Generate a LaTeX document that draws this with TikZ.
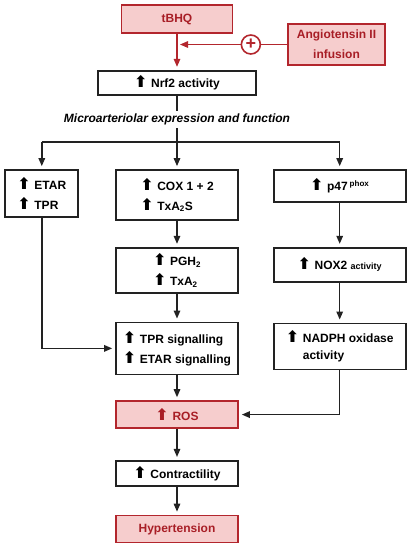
\documentclass[tikz,border=0pt]{standalone}
\usepackage{fontspec}
\setmainfont{Liberation Sans}
\newfontfamily\arrowfont{DejaVu Sans}
\usepackage{xcolor}
\definecolor{ink}{HTML}{222222}
\definecolor{redline}{HTML}{B3262D}
\definecolor{redfill}{HTML}{F6CDCD}
\definecolor{redtext}{HTML}{A81E26}
\usetikzlibrary{positioning,arrows.meta,calc}
\newcommand{\upa}{{\arrowfont\fontsize{16}{16}\selectfont ⬆}\hspace{0.3em}}
\tikzset{
  box/.style={draw=ink,line width=1.7pt,fill=white,align=left,font=\bfseries\fontsize{12}{20}\selectfont,
              inner sep=3pt,minimum width=#1},
  box/.default=122pt,
  keybox/.style={box=#1,draw=redline,fill=redfill,text=redtext,align=center},
  keybox/.default=122pt,
  flow/.style={-{Triangle[length=8pt,width=6.5pt]},draw=ink,line width=1.4pt,shorten >=3pt},
  redflow/.style={flow,draw=redline},
  link/.style={draw=ink,line width=1.4pt},
  redlink/.style={draw=redline,line width=1.4pt},
}
\begin{document}
\begin{tikzpicture}[x=1pt,y=-1pt]
  \useasboundingbox[fill=white] (0,0) rectangle (413,550);
  \node[keybox=111pt, minimum height=28pt] (tbhq) at (177,19) {tBHQ};
  \node[keybox=97pt, minimum height=41pt] (angio) at (336.5,44.5) {Angiotensin II\\ infusion};
  \node[circle, draw=redline, fill=white, line width=1.6pt, minimum size=19pt, inner sep=0pt, text=redline,
        font=\bfseries\fontsize{18}{18}\selectfont, left=26pt of angio] (plus) {+};
  \node[box=158pt, minimum height=24pt, align=center, below=36pt of tbhq] (nrf2) {\upa Nrf2 activity};
  \node[font=\bfseries\itshape\fontsize{12}{14}\selectfont, inner sep=3pt, below=15pt of nrf2] (micro)
       {Microarteriolar expression and function};
  \coordinate[below=14pt of micro] (split);
  \node[box, minimum height=50pt, below=41pt of micro] (cox) {\upa COX 1 + 2\\ \upa TxA\textsubscript{2}S};
  \node[box=73pt, minimum height=47pt, left=36pt of cox.north west, anchor=north east] (etar) {\upa ETAR\\ \upa TPR};
  \node[box=132pt, minimum height=32pt, right=34pt of cox.north east, anchor=north west] (p47) {\upa p47\,\textsuperscript{phox}};
  \node[box, minimum height=45pt, below=26pt of cox] (pgh) {\upa PGH\textsubscript{2}\\ \upa TxA\textsubscript{2}};
  \node[box=132pt, minimum height=34pt, below=44pt of p47] (nox) {\upa NOX2 {\fontsize{9}{9}\selectfont activity}};
  \node[box, minimum height=52pt, below=28pt of pgh] (tprs) {\upa TPR signalling\\ \upa ETAR signalling};
  \node[box=132pt, minimum height=46pt, font=\bfseries\fontsize{12}{17}\selectfont, below=40pt of nox] (nadph)
       {\upa NADPH oxidase\\ \hphantom{\upa}activity};
  \node[keybox, minimum height=27pt, below=25pt of tprs] (ros) {\upa ROS};
  \node[box, minimum height=25pt, align=center, below=31pt of ros] (contr) {\upa Contractility};
  \node[keybox, minimum height=27pt, below=28pt of contr] (hyper) {Hypertension};
  \draw[redflow] (tbhq) -- (nrf2);
  \draw[redlink] (angio) -- (plus);
  \draw[redflow] (plus) -- (tbhq.south |- plus.west);
  \draw[link] (nrf2) -- (micro);
  \draw[link] (micro) -- (split);
  \draw[link] (split -| etar.north) -- (split -| p47.north);
  \draw[flow] (split -| etar.north) -- (etar);
  \draw[flow] (split) -- (cox);
  \draw[flow] (split -| p47.north) -- (p47);
  \draw[flow] (cox) -- (pgh);
  \draw[flow] (p47) -- (nox);
  \draw[flow] (nox) -- (nadph);
  \draw[flow] (pgh) -- (tprs);
  \draw[flow] (etar) |- (tprs);
  \draw[flow] (tprs) -- (ros);
  \draw[flow] (nadph) |- (ros);
  \draw[flow] (ros) -- (contr);
  \draw[flow] (contr) -- (hyper);
\end{tikzpicture}
\end{document}
